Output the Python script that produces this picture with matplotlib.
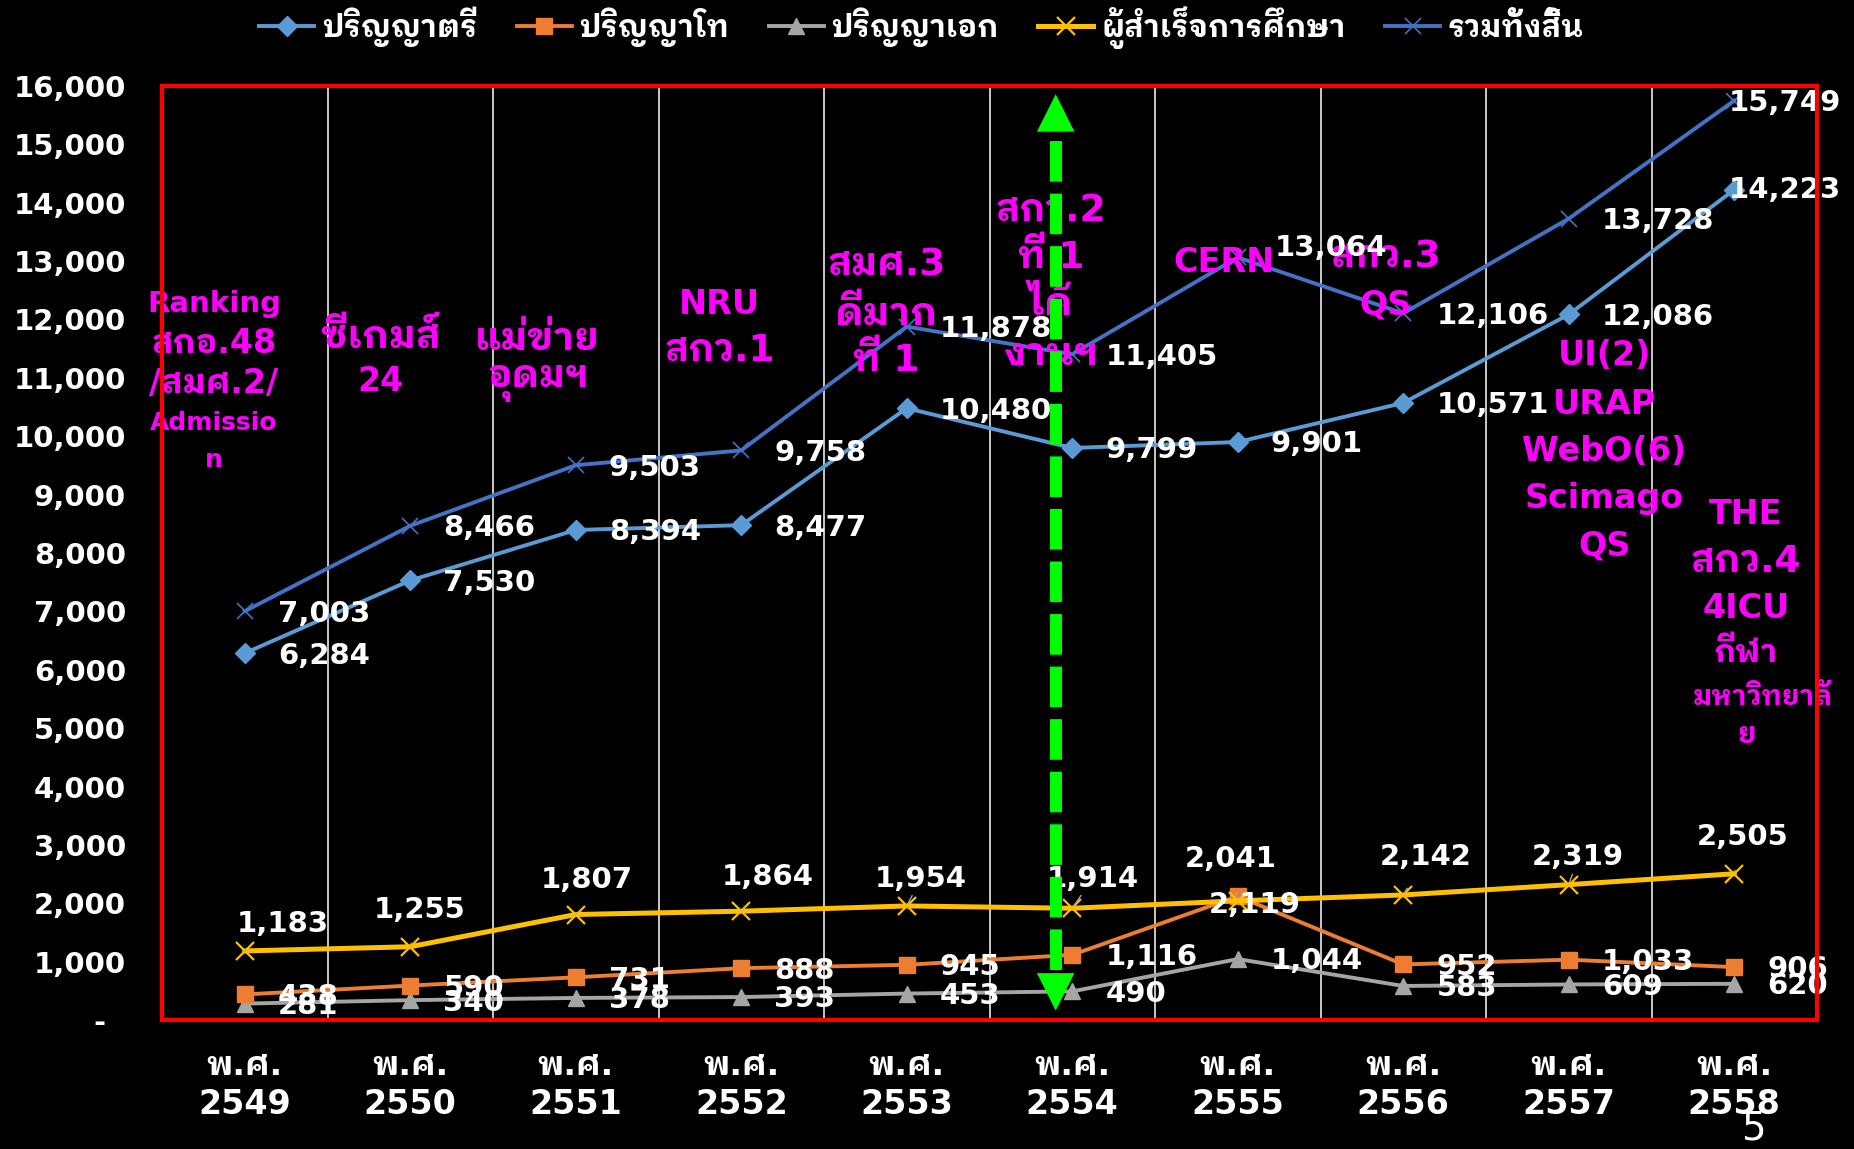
import matplotlib
matplotlib.use("Agg")
import matplotlib.pyplot as plt
from matplotlib import font_manager
from matplotlib.ticker import FuncFormatter, FixedLocator

# ---------------- data ----------------
years = ["2549", "2550", "2551", "2552", "2553", "2554", "2555", "2556", "2557", "2558"]
bachelor = [6284, 7530, 8394, 8477, 10480, 9799, 9901, 10571, 12086, 14223]
master = [438, 590, 731, 888, 945, 1116, 2119, 952, 1033, 906]
doctor = [281, 340, 378, 393, 453, 490, 1044, 583, 609, 620]
graduates = [1183, 1255, 1807, 1864, 1954, 1914, 2041, 2142, 2319, 2505]
total = [7003, 8466, 9503, 9758, 11878, 11405, 13064, 12106, 13728, 15749]
series_names = ["ปริญญาตรี", "ปริญญาโท", "ปริญญาเอก", "ผู้สำเร็จการศึกษา", "รวมทั้งสิ้น"]
yticks = list(range(0, 16001, 1000))

# ---------------- fonts ----------------
def _w(f):
    w = f.weight
    if isinstance(w, str):
        return 700 if "bold" in w.lower() else 400
    return int(w)

bold_names = {f.name for f in font_manager.fontManager.ttflist if _w(f) >= 700}
all_names = {f.name for f in font_manager.fontManager.ttflist}
thai_pref = ["Noto Sans Thai Looped", "IBM Plex Sans Thai Looped", "Noto Sans Thai",
             "IBM Plex Sans Thai", "Sarabun", "Bai Jamjuree", "Chakra Petch"]
THAI = next((n for n in thai_pref if n in bold_names),
            next((n for n in thai_pref if n in all_names), "DejaVu Sans"))
FAM = ["DejaVu Sans", THAI]
plt.rcParams["font.family"] = FAM

W, H = 1854, 1149
fig = plt.figure(figsize=(W / 100, H / 100), dpi=100, facecolor="black")
ax = fig.add_axes([162 / W, 1 - 1020 / H, (1817 - 162) / W, (1020 - 86) / H])
ax.set_facecolor("black")
x = list(range(len(years)))

C_BACH, C_MAST, C_DOC, C_GRAD, C_TOT = "#5B9BD5", "#ED7D31", "#A5A5A5", "#FFC000", "#4472C4"

l_b, = ax.plot(x, bachelor, color=C_BACH, lw=2.8, marker="D", ms=10, zorder=5)
l_m, = ax.plot(x, master, color=C_MAST, lw=2.8, marker="s", ms=12, zorder=5)
l_d, = ax.plot(x, doctor, color=C_DOC, lw=2.8, marker="^", ms=12, zorder=4)
l_g, = ax.plot(x, graduates, color=C_GRAD, lw=3.6, marker="x", ms=13, mew=1.6, zorder=5)
l_t, = ax.plot(x, total, color=C_TOT, lw=2.8, marker="x", ms=12, mew=1.2, zorder=5)

ax.set_xlim(-0.5, len(years) - 0.5)
ax.set_ylim(0, 16000)

# axes frame / grid
for s in ax.spines.values():
    s.set_color("#FF0000")
    s.set_linewidth(3)
    s.set_zorder(8)
ax.xaxis.set_minor_locator(FixedLocator([i + 0.5 for i in range(len(years) - 1)]))
ax.grid(True, which="minor", axis="x", color="#D9D9D9", lw=1.3, zorder=1)
ax.set_xticks(x)
ax.set_xticklabels(["พ.ศ.\n" + y for y in years], color="white", fontsize=24,
                   fontweight="bold", linespacing=1.22)
ax.set_yticks(yticks)
ax.yaxis.set_major_formatter(FuncFormatter(lambda v, p: "-  " if v == 0 else f"{int(v):,}"))
for t in ax.get_yticklabels():
    t.set_color("white"); t.set_fontsize(21); t.set_fontweight("bold")
ax.tick_params(axis="both", which="both", length=0)
ax.tick_params(axis="y", pad=26)
ax.tick_params(axis="x", pad=21)

# ---------------- data labels ----------------
lab = dict(color="white", fontsize=21, fontweight="bold", textcoords="offset points", zorder=7)
k = 0.851  # reference display px -> points

def right_labels(vals, dy=-2, overrides=None):
    overrides = overrides or {}
    for i, v in enumerate(vals):
        dx, ddy, ha = overrides.get(i, (28, dy, "left"))
        ax.annotate(f"{v:,}", (i, v), xytext=(dx * k, -ddy * k), ha=ha, va="center", **lab)

right_labels(total, dy=2, overrides={6: (31, -8, "left"), 9: (-5, 2, "left")})
right_labels(bachelor, dy=2, overrides={9: (-5, 0, "left")})
right_labels(master, dy=2, overrides={6: (14, 7, "center")})
right_labels(doctor, dy=2)

grad_off = [(32, 23), (8, 31), (9, 29), (22, 29), (12, 23), (17, 25), (-6, 35), (19, 32), (8, 23), (7, 31)]
for i, v in enumerate(graduates):
    dx, dy = grad_off[i]
    ax.annotate(f"{v:,}", (i, v), xytext=(dx * k, dy * k), ha="center", va="center",
                arrowprops=dict(arrowstyle="-", color="#A6A6A6", lw=1, shrinkA=12, shrinkB=2),
                **lab)

# ---------------- magenta annotations ----------------
MAG = "#FF00FF"

def stack(xd, items):
    for it in items:
        txt, yv, size = it[:3]
        xx = it[3] if len(it) > 3 else xd
        ax.text(xx, yv, txt, color=MAG, fontsize=size, fontweight="bold", ha="center",
                va="center", zorder=6, family=FAM)

stack(-0.186, [("Ranking", 12273, 21), ("สกอ.48", 11585, 24), ("/สมศ.2/", 10896, 24),
               ("Admissio", 10228, 18), ("n", 9600, 18)])
stack(0.821, [("ซีเกมส์", 11706, 28), ("24", 10937, 24)])
stack(1.771, [("แม่ข่าย", 11666, 28), ("อุดมฯ", 10896, 27)])
stack(2.871, [("NRU", 12253, 24), ("สกว.1", 11463, 27)])
stack(3.879, [("สมศ.3", 12922, 27), ("ดีมาก", 12091, 28), ("ที่ 1", 11301, 27)])
stack(4.871, [("สกว.2", 13853, 27), ("ที่ 1", 13063, 27), ("ได้", 12273, 28), ("งานฯ", 11403, 28)])
stack(5.914, [("CERN", 12982, 24)])
stack(6.893, [("สกว.3", 13063, 27), ("QS", 12253, 24)])
stack(8.214, [("UI(2)", 11382, 24), ("URAP", 10552, 24), ("WebO(6)", 9742, 24),
              ("Scimago", 8932, 24), ("QS", 8122, 24)])
stack(9.071, [("THE", 8668, 24), ("สกว.4", 7838, 27), ("4ICU", 7048, 24),
              ("กีฬา", 6278, 23), ("มหาวิทยาลั", 5529, 20, 9.17), ("ย", 4881, 21)])

# ---------------- green dashed double arrow ----------------
GX = 4.9
GREEN = "#00FF00"
ax.plot([GX, GX], [850, 15250], color=GREEN, lw=8.6, dashes=(3.4, 1.0), zorder=9,
        solid_capstyle="butt", dash_capstyle="butt")
for tip, tail in ((15860, 14000), (160, 2000)):
    ax.annotate("", xy=(GX, tip), xytext=(GX, tail), zorder=9,
                arrowprops=dict(arrowstyle="-|>,head_length=0.9,head_width=0.45",
                                mutation_scale=30, color=GREEN, lw=0.01,
                                shrinkA=0, shrinkB=0))

# ---------------- legend ----------------
leg = fig.legend([l_b, l_m, l_d, l_g, l_t], series_names, loc="upper center",
                 bbox_to_anchor=(0.497, 1.019), ncol=5, frameon=False,
                 prop=dict(family=FAM, weight="bold", size=22), labelcolor="white",
                 handlelength=1.8, handletextpad=0.25, columnspacing=1.3)

fig.text(1753 / W, 1 - 1128 / H, "5", color="white", fontsize=28, ha="center", va="center")

fig.savefig("out.png", dpi=100, facecolor="black")
